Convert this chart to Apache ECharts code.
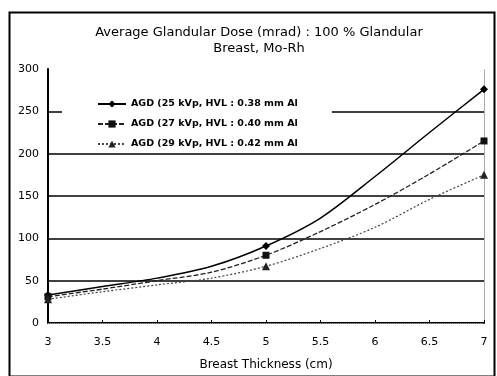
<!DOCTYPE html>
<html><head><meta charset="utf-8">
<script src="https://cdn.jsdelivr.net/npm/echarts@6/dist/echarts.min.js"></script>
<style>html,body{margin:0;padding:0;background:#fff}#c{width:497px;height:376px}</style>
</head><body><div id="c"></div>
<script>
var thickness = [3, 3.5, 4, 4.5, 5, 5.5, 6, 6.5, 7];
var agd25 = [33, 43, 53, 67, 91, 124, 173, 225, 276];
var agd27 = [31, 40, 50, 60, 80, 108, 140, 176, 215];
var agd29 = [28, 37, 45, 53, 67, 88, 113, 146, 175];
var markedPoints = [3, 5, 7];
var seriesNames = [
  'AGD (25 kVp, HVL : 0.38 mm Al',
  'AGD (27 kVp, HVL : 0.40 mm Al',
  'AGD (29 kVp, HVL : 0.42 mm Al'
];
var xTicks = ['3', '3.5', '4', '4.5', '5', '5.5', '6', '6.5', '7'];
var yTicks = [0, 50, 100, 150, 200, 250, 300];

function pts(vals) {
  return thickness.map(function (t, i) {
    var d = { value: [t, vals[i]] };
    if (markedPoints.indexOf(t) < 0) d.symbol = 'none';
    return d;
  });
}
var font = 'DejaVu Sans, sans-serif';
var chart = echarts.init(document.getElementById('c'));
chart.setOption({
  animation: false,
  backgroundColor: '#fff',
  title: {
    text: 'Average Glandular Dose (mrad) : 100 % Glandular\nBreast, Mo-Rh',
    left: 254, top: 20, textAlign: 'center',
    textStyle: { fontFamily: font, fontSize: 13, fontWeight: 'normal', color: '#000', lineHeight: 16 }
  },
  legend: {
    orient: 'vertical', left: 62, top: 90,
    padding: [9, 34, 3, 35], itemGap: 10,
    backgroundColor: '#fff', z: 5,
    itemWidth: 28, itemHeight: 9,
    textStyle: { fontFamily: font, fontSize: 9.5, fontWeight: 'bold', color: '#000' },
    data: seriesNames
  },
  grid: { left: 48, right: 13, top: 69, bottom: 49 },
  xAxis: [{
    type: 'value', min: 3, max: 7, interval: 0.5,
    axisLine: { lineStyle: { color: '#000', width: 2 } },
    axisTick: { inside: true, length: 3, lineStyle: { color: '#000' } },
    axisLabel: { fontFamily: font, fontSize: 11, color: '#000', margin: 14,
      formatter: function (v) { return xTicks[Math.round((v - 3) * 2)]; } },
    splitLine: { show: false },
    name: 'Breast Thickness (cm)', nameLocation: 'middle', nameGap: 36,
    nameTextStyle: { fontFamily: font, fontSize: 12, color: '#000' }
  }, {
    type: 'value', min: 3, max: 7, position: 'top',
    axisLine: { lineStyle: { color: '#999', width: 1, type: 'dotted' } },
    axisTick: { show: false }, axisLabel: { show: false }, splitLine: { show: false }
  }],
  yAxis: [{
    type: 'value', min: 0, max: 300, interval: 50,
    axisLine: { show: true, lineStyle: { color: '#000', width: 2 } },
    axisTick: { show: false },
    axisLabel: { fontFamily: font, fontSize: 11, color: '#000', margin: 9,
      formatter: function (v) { return String(yTicks[Math.round(v / 50)]); } },
    splitLine: { lineStyle: { color: ['#000', '#000', '#000', '#000', '#000', '#000', 'transparent'], width: 1.5 } }
  }, {
    type: 'value', min: 0, max: 300, position: 'right',
    axisLine: { show: true, lineStyle: { color: '#999', width: 1, type: 'dotted' } },
    axisTick: { show: false }, axisLabel: { show: false }, splitLine: { show: false }
  }],
  series: [{
    name: seriesNames[0], type: 'line', smooth: 0.3, data: pts(agd25),
    symbol: 'diamond', symbolSize: 8,
    itemStyle: { color: '#000' }, lineStyle: { color: '#000', width: 1.5 }
  }, {
    name: seriesNames[1], type: 'line', smooth: 0.3, data: pts(agd27),
    symbol: 'rect', symbolSize: 7,
    itemStyle: { color: '#111' }, lineStyle: { color: '#222', width: 1.3, type: [5, 2] }
  }, {
    name: seriesNames[2], type: 'line', smooth: 0.3, data: pts(agd29),
    symbol: 'triangle', symbolSize: 8,
    itemStyle: { color: '#222' }, lineStyle: { color: '#444', width: 1.2, type: [2, 2] }
  }],
  graphic: [{
    type: 'rect', left: 7, top: 10, silent: true,
    shape: { width: 485, height: 364 },
    style: { fill: 'none', stroke: '#000', lineWidth: 2 }
  }]
});
</script></body></html>
